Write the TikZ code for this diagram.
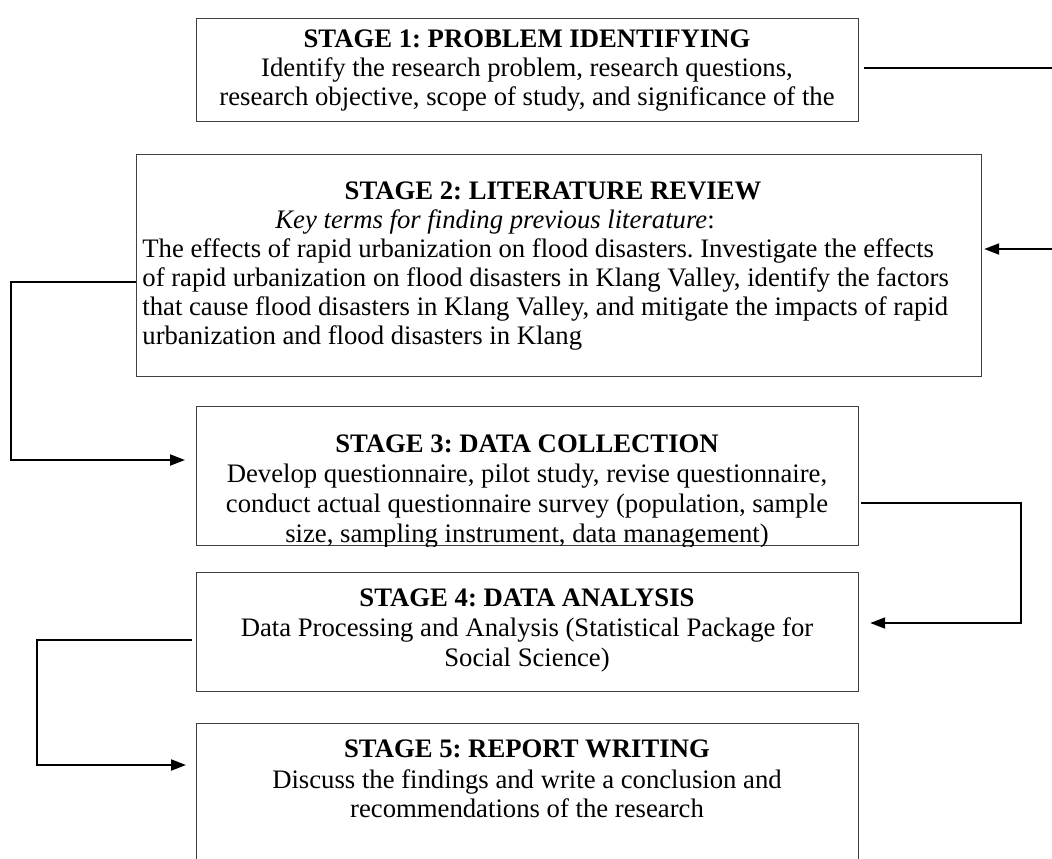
\documentclass[tikz,border=0pt]{standalone}
\usepackage{fontspec}
\setmainfont{Liberation Serif}
\usepackage{tikz}
\usetikzlibrary{arrows.meta}
\frenchspacing
\newcommand{\stagefont}{\fontsize{13.35}{16}\selectfont}
\tikzset{
  stagebox/.style={draw=black!75, line width=0.6pt, rectangle, anchor=north west, inner sep=0pt},
  head/.style={font=\stagefont\bfseries, anchor=base, inner sep=0pt},
  body/.style={font=\stagefont, anchor=base, inner sep=0pt},
  link/.style={line width=1pt},
  feed/.style={line width=1pt, -{Triangle[length=7.5pt,width=5.5pt]}}
}

\begin{document}
\begin{tikzpicture}[x=0.5pt, y=-0.5pt]

    % page frame (px of the reference)
    \useasboundingbox (0,0) rectangle (1052,858);

    % boxes
    \node[stagebox, minimum width=331pt, minimum height=51.5pt] (s1) at (196,18) {};
    \node[stagebox, minimum width=422.5pt, minimum height=111pt] (s2) at (136,154) {};
    \node[stagebox, minimum width=331pt, minimum height=69.5pt] (s3) at (196,406) {};
    \node[stagebox, minimum width=331pt, minimum height=59.5pt] (s4) at (196,572) {};
    \node[stagebox, minimum width=331pt, minimum height=80pt] (s5) at (196,723) {};

    % stage 1
    \node[head] (s1h) at (527,47) {STAGE 1: PROBLEM IDENTIFYING};
    \node[body] (s1a) at (527,76) {Identify the research problem, research questions,};
    \node[body] (s1b) at (527,105) {research objective, scope of study, and significance of the};

    % stage 2
    \node[head] (s2h) at (553,199) {STAGE 2: LITERATURE REVIEW};
    \node[body, anchor=base west] (s2k) at (275,228) {\textit{Key terms for finding previous literature}:};
    \node[body, anchor=base west] (s2a) at (142,257) {The effects of rapid urbanization on flood disasters. Investigate the effects};
    \node[body, anchor=base west] (s2b) at (142,286) {of rapid urbanization on flood disasters in Klang Valley, identify the factors};
    \node[body, anchor=base west] (s2c) at (142,315) {that cause flood disasters in Klang Valley, and mitigate the impacts of rapid};
    \node[body, anchor=base west] (s2d) at (142,344) {urbanization and flood disasters in Klang};

    % stage 3 (last line cut by the frame)
    \begin{scope}
      \clip (s3.north west) rectangle (s3.south east);
      \node[head] (s3h) at (527,452) {STAGE 3: DATA COLLECTION};
      \node[body] (s3a) at (527,482) {Develop questionnaire, pilot study, revise questionnaire,};
      \node[body] (s3b) at (527,512) {conduct actual questionnaire survey (population, sample};
      \node[body] (s3c) at (527,542) {size, sampling instrument, data management)};
    \end{scope}

    % stage 4
    \node[head] (s4h) at (527,606) {STAGE 4: DATA ANALYSIS};
    \node[body] (s4a) at (527,636) {Data Processing and Analysis (Statistical Package for};
    \node[body] (s4b) at (527,666) {Social Science)};

    % stage 5
    \node[head] (s5h) at (527,757) {STAGE 5: REPORT WRITING};
    \node[body] (s5a) at (527,788) {Discuss the findings and write a conclusion and};
    \node[body] (s5b) at (527,817) {recommendations of the research};

    % bends and free ends
    \coordinate (e1) at (1056,68);
    \coordinate (e2) at (1056,249);
    \coordinate (b2) at (11,282);
    \coordinate (b3) at (11,460);
    \coordinate (b4) at (1021,503);
    \coordinate (b5) at (1021,623);
    \coordinate (b6) at (37,640);
    \coordinate (b7) at (37,765);

    % connectors
    \draw[link, shorten <=2.5pt] (s1.east |- e1) -- (e1);
    \draw[feed, shorten >=1pt] (e2) -- (s2.east |- e2);
    \draw[feed, shorten >=5.5pt] (s2.west |- b2) -- (b2) -- (b3) -- (s3.west |- b3);
    \draw[feed, shorten <=1pt, shorten >=5.5pt] (s3.east |- b4) -- (b4) -- (b5) -- (s4.east |- b5);
    \draw[feed, shorten <=2pt, shorten >=5pt] (s4.west |- b6) -- (b6) -- (b7) -- (s5.west |- b7);

\end{tikzpicture}
\end{document}
